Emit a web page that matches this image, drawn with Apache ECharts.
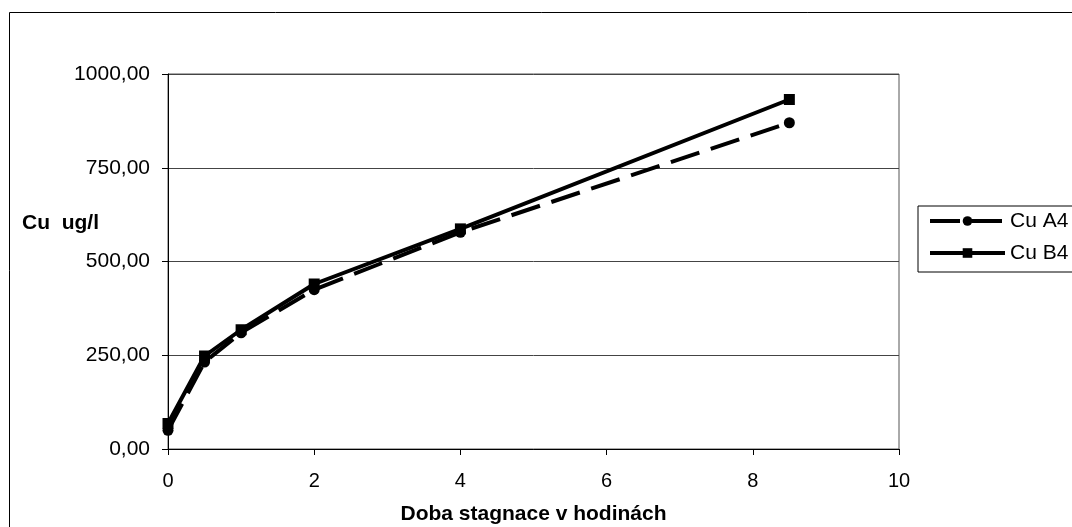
<!DOCTYPE html>
<html>
<head>
<meta charset="utf-8">
<script src="https://cdn.jsdelivr.net/npm/echarts@6/dist/echarts.min.js"></script>
<style>
  html, body { margin: 0; padding: 0; background: #fff; }
  #chart { width: 1072px; height: 527px; }
</style>
</head>
<body>
<div id="chart"></div>
<script>
// Stagnation time in hours
const hours = [0, 0.5, 1, 2, 4, 8.5];
// Copper concentration (ug/l)
const cuA4 = [50, 232, 310, 425, 578, 870];
const cuB4 = [68, 248, 318, 440, 587, 932];
const seriesNames = ['Cu A4', 'Cu B4'];
const xTitle = 'Doba stagnace v hodinách';
const yTitle = 'Cu  ug/l';

const pairs = (xs, ys) => xs.map((x, i) => [x, ys[i]]);
const fmtComma = v => v.toFixed(2).replace('.', ',');

const dashA = [30, 12];

const chart = echarts.init(document.getElementById('chart'), null, { renderer: 'canvas' });
const font = '"Liberation Sans", Arial, sans-serif';

chart.setOption({
  animation: false,
  backgroundColor: '#fff',
  textStyle: { fontFamily: font, color: '#000' },
  grid: {
    left: 168, right: 173, top: 74, bottom: 78,
    outerBoundsMode: 'none', containLabel: false,
    show: true, borderColor: '#555', borderWidth: 1
  },
  xAxis: {
    type: 'value', min: 0, max: 10, interval: 2,
    axisLine: { show: true, onZero: false, lineStyle: { color: '#000', width: 1 } },
    axisTick: { show: true, inside: false, length: 6, lineStyle: { color: '#000' } },
    axisLabel: { color: '#000', fontSize: 20, fontFamily: font, margin: 22 },
    splitLine: { show: false },
    name: xTitle, nameLocation: 'middle', nameGap: 55,
    nameTextStyle: { fontSize: 21, fontWeight: 'bold', fontFamily: font, color: '#000' }
  },
  yAxis: {
    type: 'value', min: 0, max: 1000, interval: 250,
    axisLine: { show: true, lineStyle: { color: '#000', width: 1 } },
    axisTick: { show: true, inside: false, length: 6, lineStyle: { color: '#000' } },
    axisLabel: { color: '#000', fontSize: 21, fontFamily: font, margin: 18, formatter: fmtComma },
    splitLine: { show: true, lineStyle: { color: '#444', width: 1 } }
  },
  legend: {
    orient: 'vertical', left: 918, top: 206,
    itemWidth: 75, itemHeight: 12, itemGap: 10,
    padding: [4, 30, 8, 10],
    borderColor: '#000', borderWidth: 1,
    textStyle: { fontSize: 21, lineHeight: 22, fontFamily: font, color: '#000' },
    data: [
      { name: seriesNames[0], lineStyle: { width: 4, type: dashA } },
      { name: seriesNames[1], lineStyle: { width: 4, type: 'solid' } }
    ]
  },
  graphic: [
    {
      type: 'rect', silent: true, z: -1,
      shape: { x: 9.5, y: 12.5, width: 1200, height: 600 },
      style: { fill: 'none', stroke: '#000', lineWidth: 1 }
    },
    {
      type: 'text', left: 22, top: 213, silent: true,
      style: { text: yTitle, font: 'bold 21px ' + font, fill: '#000' }
    }
  ],
  series: [
    {
      name: seriesNames[0], type: 'line', data: pairs(hours, cuA4),
      symbol: 'circle', symbolSize: 11,
      lineStyle: { color: '#000', width: 4, type: dashA },
      itemStyle: { color: '#000' }
    },
    {
      name: seriesNames[1], type: 'line', data: pairs(hours, cuB4),
      symbol: 'rect', symbolSize: 11,
      lineStyle: { color: '#000', width: 4 },
      itemStyle: { color: '#000' }
    }
  ]
});
</script>
</body>
</html>
